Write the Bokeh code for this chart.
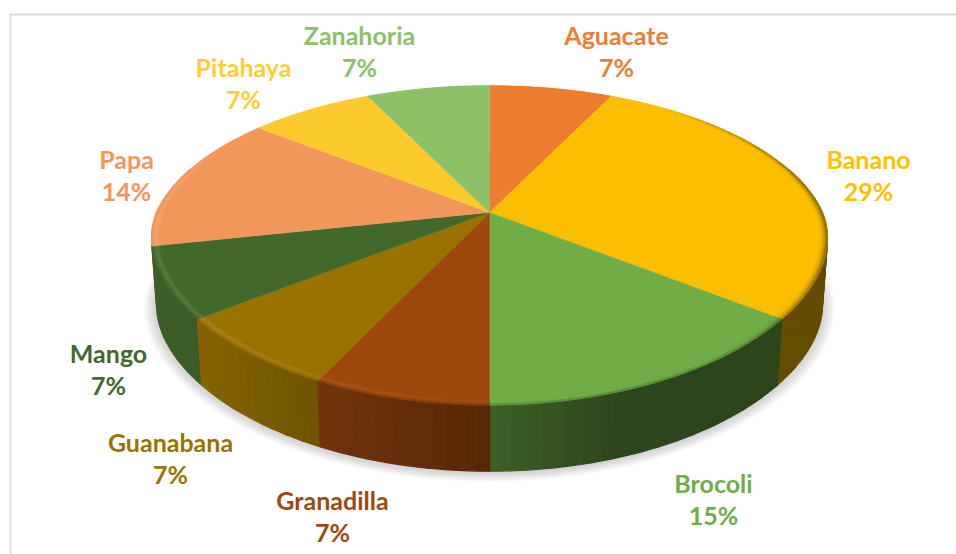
import math
import numpy as np
from bokeh.plotting import figure
from bokeh.models import Range1d, ColumnDataSource
from bokeh.core.properties import value
from bokeh.embed import file_html
from bokeh.resources import INLINE

categories = ["Aguacate", "Banano", "Brocoli", "Granadilla", "Guanabana", "Mango", "Papa", "Pitahaya", "Zanahoria"]
slice_values = [1, 4, 2, 1, 1, 1, 2, 1, 1]
percent_labels = ["7%", "29%", "15%", "7%", "7%", "7%", "14%", "7%", "7%"]

colors = ["#ED7D31", "#FBBE00", "#70AD47", "#9E480E", "#997300", "#43682B", "#F1975A", "#FBCB2E", "#8CC168"]
label_colors = ["#ED7D31", "#FFC000", "#70AD47", "#9E480E", "#997300", "#43682B", "#F1975A", "#FFCD33", "#8CC168"]
label_pos = [(616, 34), (868, 158), (713, 482), (332, 499), (170, 441), (108, 352), (126, 158), (243, 66), (359, 34)]

W, H = 956, 554
CX, CY, R, A, K = 489.0, 212.0, 333.0, 153.0, 0.206
DEPTH, XS = 66.0, 0.985
BEVEL_R0 = 0.975


def proj(theta, r=1.0):
    u, v = r * np.sin(theta), r * np.cos(theta)
    s = 1.0 / (1.0 + K * v)
    front = np.maximum(0.0, -v)
    return CX + R * u * s * (1 - 0.035 * front), CY - A * v * s - 3 * np.sin(math.pi * front)


def low(x, y):
    return CX + XS * (x - CX), y + DEPTH


def rgb(h):
    return np.array([int(h[i:i + 2], 16) for i in (1, 3, 5)], float)


def hexc(c):
    c = np.clip(c, 0, 255).round().astype(int)
    return "#%02x%02x%02x" % tuple(c)


def wall_factor(x):
    return float(np.interp(x, [152, 200, 320, 489, 620, 828], [0.92, 0.87, 0.72, 0.55, 0.40, 0.40]))


total = float(sum(slice_values))
edges = np.concatenate([[0], np.cumsum(slice_values)]) / total * 2 * math.pi

p = figure(width=W, height=H, x_range=Range1d(0, W), y_range=Range1d(H, 0),
           toolbar_location=None, output_backend="svg", min_border=0, outline_line_color=None)
p.axis.visible = False
p.grid.visible = False
p.background_fill_color = "#ffffff"
p.border_fill_color = "#ffffff"

# chart frame
p.line([10, 10, W], [H, 14, 14], line_color="#dcdcdc", line_width=2)

# soft shadow under the pie
th = np.linspace(0, 2 * math.pi, 181)
tx, ty = proj(th)
bx, by = low(tx, ty)
for i in range(8):
    g = 1 + 0.0045 * (8 - i)
    sx = CX + (bx - CX) * g
    sy = 340 + (by - 340) * g + 1 + (8 - i) * 0.6
    p.patch(sx, sy, fill_color="#808080", fill_alpha=0.05, line_color=None)

# side wall, back to front
xs, ys, fc = [], [], []
for i in range(len(slice_values)):
    a0, a1 = edges[i], edges[i + 1]
    n = max(2, int((a1 - a0) / math.radians(1.5)))
    grid = np.linspace(a0, a1, n + 1)
    base = rgb(colors[i])
    for a, b in zip(grid[:-1], grid[1:]):
        if math.cos((a + b) / 2) > 0.3:
            continue
        x0, y0 = proj(a)
        x1, y1 = proj(b)
        lx0, ly0 = low(x0, y0)
        lx1, ly1 = low(x1, y1)
        xs.append([x0, x1, lx1, lx0])
        ys.append([y0, y1, ly1, ly0])
        fc.append(hexc(base * wall_factor((x0 + x1) / 2)))
order = np.argsort([max(y) for y in ys])
src = ColumnDataSource(dict(xs=[xs[j] for j in order], ys=[ys[j] for j in order], c=[fc[j] for j in order]))
p.patches("xs", "ys", source=src, fill_color="c", line_color="c", line_width=1.2)

# top slices
xs, ys, fc = [], [], []
for i in range(len(slice_values)):
    grid = np.linspace(edges[i], edges[i + 1], max(3, int((edges[i + 1] - edges[i]) / math.radians(1.0))))
    ax, ay = proj(grid)
    xs.append([CX] + list(ax))
    ys.append([CY] + list(ay))
    fc.append(colors[i])
p.patches(xs, ys, fill_color=fc, line_color=fc, line_width=0.3)

# rim bevel: light on the left and front, dark on the right
rs = np.linspace(BEVEL_R0, 1.0, 5)
xs, ys, fc = [], [], []
white = np.array([255.0, 255.0, 255.0])
for i in range(len(slice_values)):
    a0, a1 = edges[i], edges[i + 1]
    n = max(2, int((a1 - a0) / math.radians(2.0)))
    grid = np.linspace(a0, a1, n + 1)
    base = rgb(colors[i])
    for a, b in zip(grid[:-1], grid[1:]):
        m = (a + b) / 2
        u, v = math.sin(m), math.cos(m)
        x0, _ = proj(m)
        wall = base * wall_factor(x0)
        light = max(0.0, min(1.0, -u * 1.0 + 0.15)) * (1.0 if v < 0.3 else 0.5)
        dark = max(0.0, min(1.0, u * 2.0 - 1.2))
        front = max(0.0, -v)
        for j in range(len(rs) - 1):
            t = (j + 0.5) / (len(rs) - 1)
            c = base + (white - base) * 0.12 * light * math.sin(math.pi * t) ** 2
            c = c + (base * 0.35 - c) * dark * t ** 2
            if t > 0.6:
                c = c + (wall - c) * front * 0.7 * ((t - 0.6) / 0.4) ** 2
            r0, r1 = rs[j], rs[j + 1]
            p0 = proj(a, r0); p1 = proj(b, r0); p2 = proj(b, r1); p3 = proj(a, r1)
            xs.append([p0[0], p1[0], p2[0], p3[0]])
            ys.append([p0[1], p1[1], p2[1], p3[1]])
            fc.append(hexc(c))
p.patches(xs, ys, fill_color=fc, line_color=fc, line_width=0.5)

# labels
lx = [q[0] for q in label_pos]
ly = [q[1] for q in label_pos]
font = dict(text_font=value("Lato"), text_font_style="bold", text_font_size="25px",
            text_align="center", text_baseline="middle")
p.text(lx, ly, text=categories, text_color=label_colors, **font)
p.text(lx, [y + 32 for y in ly], text=percent_labels, text_color=label_colors, **font)

open("out.html", "w").write(file_html(p, INLINE))
